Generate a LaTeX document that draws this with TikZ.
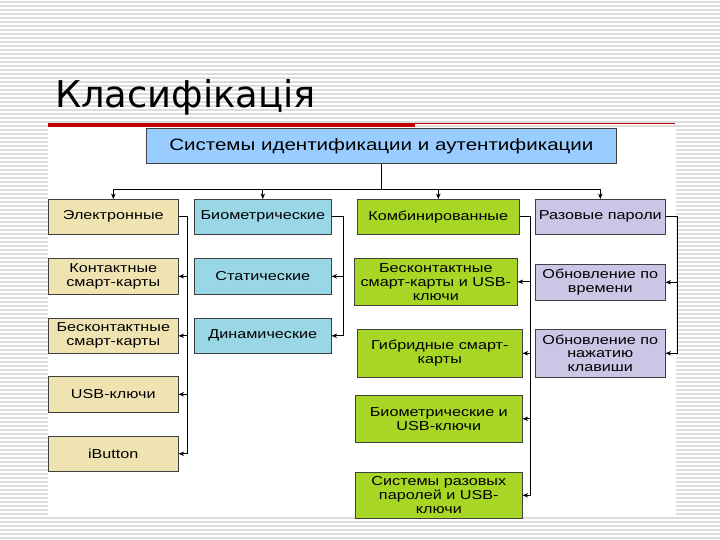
\documentclass[tikz,border=0pt]{standalone}
\usepackage{fontspec}
\setmainfont{Liberation Sans}
\newfontfamily\boxfont{Liberation Sans}[FakeStretch=1.25]
\newfontfamily\titlefont{DejaVu Sans}
\usetikzlibrary{arrows.meta,positioning}

\definecolor{stripe}{RGB}{220,220,220}
\definecolor{barred}{RGB}{192,0,0}
\definecolor{headblue}{RGB}{153,204,255}
\definecolor{tanfill}{RGB}{239,227,178}
\definecolor{skyfill}{RGB}{153,214,230}
\definecolor{limefill}{RGB}{168,214,36}
\definecolor{lavfill}{RGB}{204,197,230}

\begin{document}
\begin{tikzpicture}[
            x=1bp, y=-1bp,
            box/.style={rectangle, draw=black!75, line width=0.6bp, anchor=north west,
                                        align=center, inner sep=1pt,
                                        font=\boxfont\fontsize{13}{14}\selectfont},
            elbox/.style={box, fill=tanfill, minimum width=130bp},
            biobox/.style={box, fill=skyfill, minimum width=137bp},
            combbox/.style={box, fill=limefill},
            otpbox/.style={box, fill=lavfill, minimum width=130bp},
            flow/.style={->, >={Stealth[length=5.5bp,width=4.5bp]}, line width=0.7bp},
            bgline/.style={draw=stripe, line width=1.3bp}
        ]
        \useasboundingbox (0,0) rectangle (720,540);

        % Slide background
        \foreach \k in {0,...,134}
            \draw[bgline] (0,{4*\k+2}) -- (720,{4*\k+2});
        \fill[white] (48,127) rectangle (676,517);
        \fill[barred] (48,123) rectangle (415,127);
        \draw[barred, line width=0.8bp] (415,123.6) -- (675,123.6);

        % Title
        \node[anchor=base west, inner sep=0pt, font=\titlefont\fontsize{37}{40}\selectfont]
            (title) at (55,108) {Класифікація};

        % Root
        \node[box, fill=headblue, minimum width=470bp, minimum height=35bp,
                    font=\boxfont\fontsize{16.5}{18}\selectfont] (root) at (146,128)
            {Системы идентификации и аутентификации};

        % Categories
        \node[elbox, minimum height=35bp] (el) at (48,199) {Электронные};
        \node[biobox, minimum height=35bp] (bio) at (194,199) {Биометрические};
        \node[combbox, minimum width=162bp, minimum height=35bp] (comb) at (357,199) {Комбинированные};
        \node[otpbox, minimum height=35bp] (otp) at (535,199) {Разовые пароли};

        % Electronic
        \node[elbox, minimum height=36bp] (el1) at (48,258) {Контактные\\смарт-карты};
        \node[elbox, minimum height=35bp] (el2) at (48,318) {Бесконтактные\\смарт-карты};
        \node[elbox, minimum height=36bp] (el3) at (48,376) {USB-ключи};
        \node[elbox, minimum height=35bp] (el4) at (48,436) {iButton};

        % Biometric
        \node[biobox, minimum height=36bp] (bio1) at (194,258) {Статические};
        \node[biobox, minimum height=35bp] (bio2) at (194,318) {Динамические};

        % Combined
        \node[combbox, minimum width=163bp, minimum height=47bp] (comb1) at (354,258)
            {Бесконтактные\\смарт-карты и USB-\\ключи};
        \node[combbox, minimum width=165bp, minimum height=48bp] (comb2) at (357,329)
            {Гибридные смарт-\\карты};
        \node[combbox, minimum width=167bp, minimum height=47bp] (comb3) at (355,395)
            {Биометрические и\\USB-ключи};
        \node[combbox, minimum width=167bp, minimum height=46bp] (comb4) at (355,472)
            {Системы разовых\\паролей и USB-\\ключи};

        % One-time passwords
        \node[otpbox, minimum height=36bp] (otp1) at (535,264) {Обновление по\\времени};
        \node[otpbox, minimum height=48bp] (otp2) at (535,329) {Обновление по\\нажатию\\клавиши};

        % Connections
        \foreach \c in {el,bio,comb,otp}
            \draw[flow] (root.south) -- ++(0,26) -| (\c.north);
        \foreach \s in {el1,el2,el3,el4}
            \draw[flow] (el.east) -- ++(9,0) |- (\s.east);
        \foreach \s in {bio1,bio2}
            \draw[flow] (bio.east) -- ++(12,0) |- (\s.east);
        \foreach \s in {comb1,comb2,comb3,comb4}
            \draw[flow] (comb.east) -- ++(11,0) |- (\s.east);
        \foreach \s in {otp1,otp2}
            \draw[flow] (otp.east) -- ++(12,0) |- (\s.east);

        \end{tikzpicture}
\end{document}
